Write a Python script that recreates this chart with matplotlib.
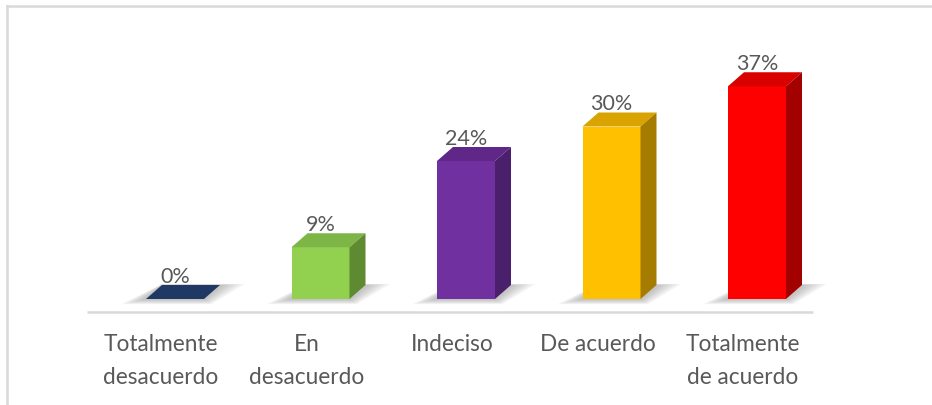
import numpy as np
import matplotlib.pyplot as plt
from matplotlib.patches import Polygon

# -----------------------------------
# Data
# -----------------------------------

categories = ["Totalmente\ndesacuerdo", "En\ndesacuerdo", "Indeciso",
              "De acuerdo", "Totalmente\nde acuerdo"]
values = [0, 9, 24, 30, 37]

front_colors = ["#1F3864", "#92D050", "#7030A0", "#FFC000", "#FF0000"]
top_colors = ["#1F3864", "#7DB546", "#5F2888", "#D9A300", "#D90000"]
side_colors = ["#172A4B", "#5E8A31", "#4A1F6B", "#A67C00", "#A30000"]

# -----------------------------------
# Layout (pixel based, 3D look)
# -----------------------------------

W, H = 932, 406
X0_PX = 175.0        # first bar front centre
STEP_PX = 145.5      # distance between bars
BASE_PX = 106.0      # bar base, from bottom
PCT_PX = 5.75        # pixels for 1 %
BAR_W = 58 / STEP_PX
DX = 16 / STEP_PX
DY = 14 / PCT_PX

TEXT = "#595959"
FONT = ["Lato", "DejaVu Sans"]

fig = plt.figure(figsize=(W / 100, H / 100), dpi=100)
ax = fig.add_axes([0, 0, 1, 1])
ax.set_xlim(-X0_PX / STEP_PX, (W - X0_PX) / STEP_PX)
ax.set_ylim(-BASE_PX / PCT_PX, (H - BASE_PX) / PCT_PX)
ax.axis("off")

x = np.arange(len(values))

# soft shadows at the base of each bar
for xi in x:
    xl, xr = xi - BAR_W / 2, xi + BAR_W / 2
    for k in range(8):
        ex = (4 + 3 * k) / STEP_PX
        ey = (1 + 0.6 * k) / PCT_PX
        pts = [(xl - ex, -ey), (xr + ex * 0.3, -ey),
               (xr + DX + ex, DY + ey * 0.2), (xl + DX, DY + ey * 0.2)]
        ax.add_patch(Polygon(pts, closed=True, facecolor="#6F6F6F",
                             edgecolor="none", alpha=0.06, zorder=1))

# front faces
ax.bar(x, values, width=BAR_W, color=front_colors, zorder=3, linewidth=0)

# top and side faces
for xi, v, tc, sc in zip(x, values, top_colors, side_colors):
    xl, xr = xi - BAR_W / 2, xi + BAR_W / 2
    top = [(xl, v), (xr, v), (xr + DX, v + DY), (xl + DX, v + DY)]
    ax.add_patch(Polygon(top, closed=True, facecolor=tc, edgecolor="none", zorder=4))
    if v > 0:
        side = [(xr, 0), (xr + DX, DY), (xr + DX, v + DY), (xr, v)]
        ax.add_patch(Polygon(side, closed=True, facecolor=sc, edgecolor="none", zorder=4))
    ax.text(xi, v + DY + 3 / PCT_PX, f"{v}%", ha="center", va="baseline",
            fontsize=15.5, color=TEXT, family=FONT, zorder=5)

# floor edge
ax.plot([-88 / STEP_PX, (813 - X0_PX) / STEP_PX], [-13 / PCT_PX] * 2,
        color="#D9D9D9", lw=1.8, zorder=2, solid_capstyle="butt")

# category labels
for xi, lab in zip(x, categories):
    ax.text(xi - 14 / STEP_PX, -34 / PCT_PX, lab, ha="center", va="top",
            fontsize=16.3, color=TEXT, family=FONT, linespacing=1.68)

# chart border (top and left)
fig.add_artist(plt.Line2D([7 / W, 7 / W], [0, 1 - 7 / H], color="#D9D9D9", lw=1.8))
fig.add_artist(plt.Line2D([7 / W, 1], [1 - 7 / H, 1 - 7 / H], color="#D9D9D9", lw=1.8))

fig.savefig("out.png", dpi=100)
